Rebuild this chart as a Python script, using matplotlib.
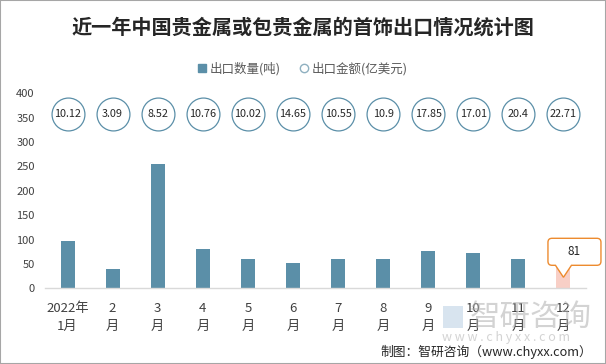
import matplotlib
matplotlib.use("Agg")
import matplotlib.pyplot as plt
import matplotlib.transforms as mtransforms
from matplotlib.patches import Rectangle, PathPatch
from matplotlib.path import Path
from matplotlib.lines import Line2D

plt.rcParams['font.family'] = ['Noto Sans CJK SC', 'DejaVu Sans']

months = ["2022年\n1月", "2\n月", "3\n月", "4\n月", "5\n月", "6\n月",
          "7\n月", "8\n月", "9\n月", "10\n月", "11\n月", "12\n月"]
quantity = [97, 40, 254, 81, 60, 52, 60, 60, 76, 72, 60, 81]
amount = [10.12, 3.09, 8.52, 10.76, 10.02, 14.65, 10.55, 10.9, 17.85, 17.01, 20.4, 22.71]
yticks = [0, 50, 100, 150, 200, 250, 300, 350, 400]

W, H = 606, 364
fig = plt.figure(figsize=(W / 100, H / 100), dpi=100)
fig.patch.set_facecolor("white")

ax_l, ax_r = 45 / W, 586 / W
ax_b, ax_t = 1 - 288.3 / H, 1 - 93.3 / H
ax = fig.add_axes([ax_l, ax_b, ax_r - ax_l, ax_t - ax_b])

bar_color = "#5b8fa8"
hl_color = "#f8cfc6"
x = list(range(len(months)))
colors = [bar_color] * (len(months) - 1) + [hl_color]
ax.bar(x, quantity, width=0.31, color=colors, zorder=2)

ax.set_xlim(-0.5, len(months) - 0.5)
ax.set_ylim(0, 400)
ax.set_yticks(yticks)
ax.set_yticklabels([str(v) for v in yticks], fontsize=8, color="#404040")
ax.set_xticks(x)
ax.set_xticklabels(months, fontsize=9.5, color="#404040", linespacing=1.5)
ax.tick_params(axis="both", length=0)
ax.tick_params(axis="y", pad=7.5)
ax.tick_params(axis="x", pad=10)
for s in ["top", "right", "left"]:
    ax.spines[s].set_visible(False)
ax.spines["bottom"].set_color("#d9d9d9")
ax.spines["bottom"].set_linewidth(1)

# amount circles at a fixed level
level = 357
circ_color = "#5b8fa8"
ax.scatter(x, [level] * len(x), s=560, facecolor="white", edgecolor=circ_color,
           linewidth=0.9, zorder=3, clip_on=False)
for xi, a in zip(x, amount):
    ax.text(xi, level, f"{a:g}", ha="center", va="center", fontsize=7.8,
            color="#262626", zorder=4)

# callout for the last bar (shape in pixel offsets from the bar's base)
last = len(x) - 1
L, R, B, T, r = -15.5, 37.5, 23, 50, 4
seq = [
    ((L + r, B), Path.MOVETO),
    ((-8, B), Path.LINETO),
    ((0, 11), Path.LINETO),
    ((8, B), Path.LINETO),
    ((R - r, B), Path.LINETO),
    ((R, B), Path.CURVE3), ((R, B + r), Path.CURVE3),
    ((R, T - r), Path.LINETO),
    ((R, T), Path.CURVE3), ((R - r, T), Path.CURVE3),
    ((L + r, T), Path.LINETO),
    ((L, T), Path.CURVE3), ((L, T - r), Path.CURVE3),
    ((L, B + r), Path.LINETO),
    ((L, B), Path.CURVE3), ((L + r, B), Path.CURVE3),
    ((L + r, B), Path.CLOSEPOLY),
]
verts = [v for v, c in seq]
codes = [c for v, c in seq]
cx, cy = ax.transData.transform((last, 0))
tr_final = mtransforms.Affine2D().translate(cx, cy)
patch = PathPatch(Path(verts, codes), facecolor="white", edgecolor="#ed8b2f",
                  linewidth=1.0, transform=tr_final, zorder=5, clip_on=False)
ax.add_artist(patch)
ax.text((L + R) / 2 + cx, (B + T) / 2 + cy, str(quantity[last]), transform=None,
        ha="center", va="center", fontsize=8.5, color="#262626", zorder=6)

# title
fig.text(0.5, 1 - 27 / H, "近一年中国贵金属或包贵金属的首饰出口情况统计图",
         ha="center", va="center", fontsize=14.5, fontweight="bold", color="#262626")

# legend
handles = [
    Line2D([], [], marker="s", linestyle="none", markersize=6, color=bar_color),
    Line2D([], [], marker="o", linestyle="none", markersize=6, markerfacecolor="white",
           markeredgecolor="#8fb0c0", markeredgewidth=1),
]
leg = fig.legend(handles, ["出口数量(吨)", "出口金额(亿美元)"], loc="center",
                 bbox_to_anchor=(0.5, 1 - 69 / H), ncol=2, frameon=False,
                 fontsize=9, handlelength=0.6, handletextpad=0.3, columnspacing=1.6)
for t in leg.get_texts():
    t.set_color("#595959")

# watermark
fig.text(470 / W, 1 - 317 / H, "智研咨询", ha="left", va="center", fontsize=22,
         color="#b0b0b0", alpha=0.55, zorder=0)
fig.text(442 / W, 1 - 338 / H, "w w w . c h y x x . c o m", ha="left", va="center",
         fontsize=9, color="#b0b0b0", alpha=0.55, zorder=0)
fig.patches.append(Rectangle((443 / W, 1 - 328 / H), 20 / W, 22 / H, transform=fig.transFigure,
                             facecolor="#a9c4dd", alpha=0.45, edgecolor="none", zorder=0))

# credit
fig.text(592 / W, 1 - 352 / H, "制图：智研咨询（www.chyxx.com）", ha="right", va="center",
         fontsize=9.2, color="#262626")

# border
fig.patches.append(Rectangle((0, 0), 1, 1, transform=fig.transFigure, fill=False,
                             edgecolor="#a6a6a6", linewidth=1.5))

fig.savefig("out.png", dpi=100)
